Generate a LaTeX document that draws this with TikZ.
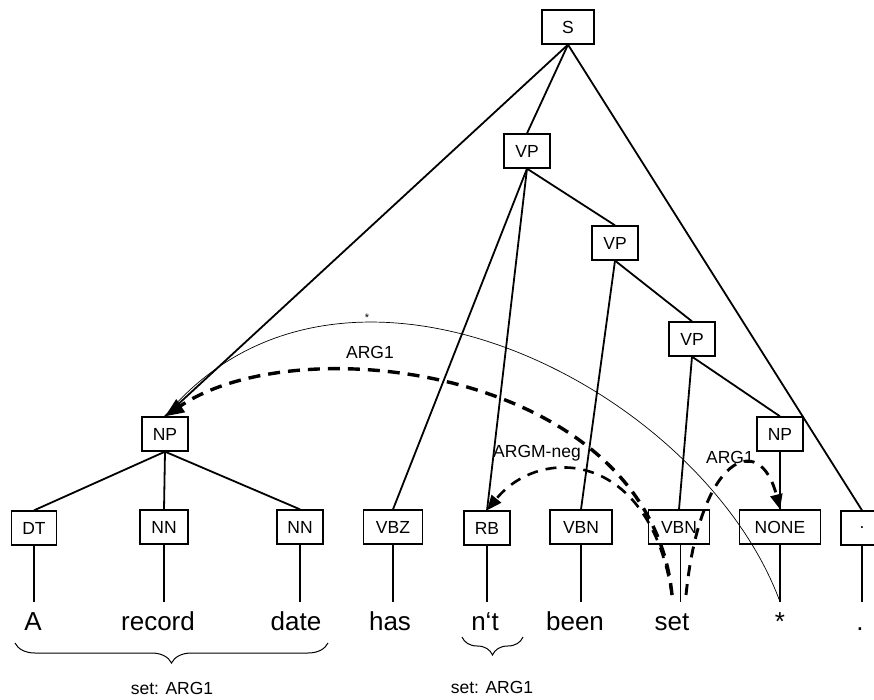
\documentclass[tikz,border=0pt]{standalone}
\usepackage{fontspec}
\setmainfont{Liberation Sans}
\usetikzlibrary{arrows.meta,decorations.pathreplacing}

\begin{document}
\begin{tikzpicture}[
		x=1pt,y=-1pt,
		cat/.style={draw,line width=1.3pt,minimum width=46pt,minimum height=34pt,inner sep=2pt,
			font=\fontsize{17.5}{20}\selectfont},
		word/.style={anchor=base,text height=19pt,text depth=0pt,inner sep=9pt,
			font=\fontsize{26}{30}\selectfont},
		role/.style={font=\fontsize{17.5}{20}\selectfont},
		edge/.style={line width=1.8pt},
		leaf/.style={line width=1.1pt},
		arg/.style={line width=3.4pt,dash pattern=on 12pt off 8pt,
			-{Triangle[length=19pt,width=15pt]}},
		brace/.style={decorate,line width=1pt,decoration={brace,mirror,amplitude=20pt,aspect=0.5}},
	]
	\useasboundingbox (0,0) rectangle (874,700);

	\node[cat,minimum width=52pt] (s) at (568,27) {S};
	\node[cat] (vpa) at (527,151) {VP};
	\node[cat] (vpb) at (615,243) {VP};
	\node[cat] (vpc) at (692,339) {VP};
	\node[cat] (npl) at (165,434) {NP};
	\node[cat] (npr) at (780,434) {NP};

	\node[cat,minimum width=45pt] (dt) at (34,528) {DT};
	\node[cat,minimum width=48pt] (nna) at (164,527) {NN};
	\node[cat] (nnb) at (300,527) {NN};
	\node[cat,minimum width=59pt] (vbz) at (393,527) {VBZ};
	\node[cat] (rb) at (487,528) {RB};
	\node[cat,minimum width=62pt] (vbna) at (581,527) {VBN};
	\node[cat,minimum width=61pt] (vbnb) at (679,527) {VBN};
	\node[cat,minimum width=81pt] (none) at (780,527) {NONE};
	\node[cat,minimum width=42pt] (dot) at (862,528) {.};

	\node[word] (wa) at (33,630) {A};
	\node[word] (wrecord) at (158,630) {record};
	\node[word] (wdate) at (296,630) {date};
	\node[word] (whas) at (390,630) {has};
	\node[word] (wnt) at (485,630) {n‘t};
	\node[word] (wbeen) at (575,630) {been};
	\node[word] (wset) at (672,630) {set};
	\node[word] (wstar) at (780,630) {*};
	\node[word] (wdot) at (860,630) {.};

	\draw[edge] (s.south) -- (npl.north);
	\draw[edge] (s.south) -- (vpa.north);
	\draw[edge] (s.south) -- (dot.north);
	\draw[edge] (vpa.south) -- (vbz.north);
	\draw[edge] (vpa.south) -- (rb.north);
	\draw[edge] (vpa.south) -- (vpb.north);
	\draw[edge] (vpb.south) -- (vbna.north);
	\draw[edge] (vpb.south) -- (vpc.north);
	\draw[edge] (vpc.south) -- (vbnb.north);
	\draw[edge] (vpc.south) -- (npr.north);
	\draw[edge] (npr.south) -- (none.north);
	\draw[edge] (npl.south) -- (dt.north);
	\draw[edge] (npl.south) -- (nna.north);
	\draw[edge] (npl.south) -- (nnb.north);

	\draw[leaf] (dt.south) -- (dt.south |- wa.north);
	\draw[leaf] (nna.south) -- (nna.south |- wrecord.north);
	\draw[leaf] (nnb.south) -- (nnb.south |- wdate.north);
	\draw[leaf] (vbz.south) -- (vbz.south |- whas.north);
	\draw[leaf] (rb.south) -- (rb.south |- wnt.north);
	\draw[leaf] (vbna.south) -- (vbna.south |- wbeen.north);
	\draw[line width=0.7pt,double,double distance=1.6pt] (vbnb.south) -- (vbnb.south |- wset.north);
	\draw[leaf] (none.south) -- (none.south |- wstar.north);
	\draw[leaf] (dot.south) -- (dot.south |- wdot.north);

	\coordinate (setl) at (672,595);
	\coordinate (setr) at (686,595);

	\draw[line width=0.7pt] (wstar.north) .. controls (700,385) and (340,205) .. (npl.north);
	\node[font=\fontsize{11}{12}\selectfont] (trace) at (367,318) {*};

	\draw[arg] (setl) .. controls (650,370) and (300,325) .. (npl.north);
	\draw[arg,line width=2.6pt,dash pattern=on 11pt off 8pt,-{Triangle[length=15pt,width=12pt]}]
		(setl) .. controls (650,450) and (540,445) .. (rb.north);
	\draw[arg,line width=2.9pt,dash pattern=on 11pt off 8pt,-{Triangle[length=15pt,width=12pt]}]
		(setr) .. controls (700,455) and (760,430) .. (none.north);

	\node[role] (lbla) at (370,352) {ARG1};
	\node[role] (lblb) at (537,453) {ARGM-neg};
	\node[role] (lblc) at (730,457) {ARG1};

	\coordinate (bra) at (15,643);
	\coordinate (brb) at (328,643);
	\coordinate (brc) at (462,637);
	\coordinate (brd) at (523,637);
	\draw[brace] (bra) -- (brb);
	\draw[brace,decoration={amplitude=18pt}] (brc) -- (brd);
	\node[role] (seta) at (172,688) {set: ARG1};
	\node[role] (setb) at (492,687) {set: ARG1};
\end{tikzpicture}
\end{document}
